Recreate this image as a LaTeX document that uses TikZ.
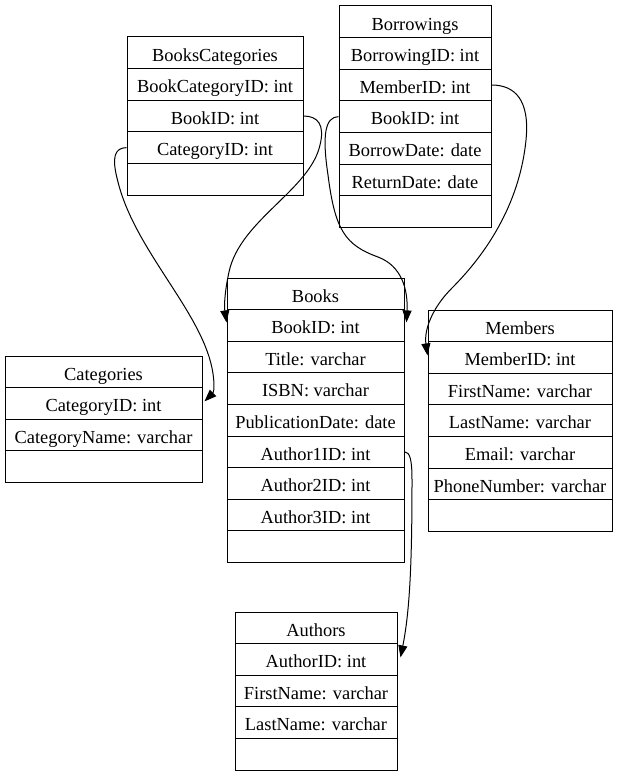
\documentclass[tikz,border=0pt]{standalone}
\usepackage{fontspec}
\setmainfont{Liberation Serif}
\usetikzlibrary{arrows.meta}
\begin{document}
\begin{tikzpicture}[x=1pt,y=-1pt,
  cell/.style={draw=black,line width=1pt,rectangle,inner sep=0pt,minimum height=31.6pt,
    font=\fontsize{18.4}{22}\selectfont,text height=16.6pt,text depth=0pt},
  link/.style={draw=black,line width=1pt,-{Triangle[length=12pt,width=9pt]}}]
\useasboundingbox (0,0) rectangle (626,776);
% BooksCategories
\begin{scope}[every node/.append style={cell,minimum width=176pt}]
\node (bc0) at (215,52.8) {BooksCategories};
\node (bc1) at (215,84.4) {BookCategoryID: int};
\node (bc2) at (215,116) {BookID: int};
\node (bc3) at (215,147.6) {CategoryID: int};
\node (bc4) at (215,179.2) {};
\end{scope}
% Borrowings
\begin{scope}[every node/.append style={cell,minimum width=152pt}]
\node (br0) at (415,21.8) {Borrowings};
\node (br1) at (415,53.4) {BorrowingID: int};
\node (br2) at (415,85) {MemberID: int};
\node (br3) at (415,116.6) {BookID: int};
\node (br4) at (415,148.2) {BorrowDate: date};
\node (br5) at (415,179.8) {ReturnDate: date};
\node (br6) at (415,211.4) {};
\end{scope}
% Books
\begin{scope}[every node/.append style={cell,minimum width=177pt}]
\node (bk0) at (315.5,293.8) {Books};
\node (bk1) at (315.5,325.4) {BookID: int};
\node (bk2) at (315.5,357) {Title: varchar};
\node (bk3) at (315.5,388.6) {ISBN: varchar};
\node (bk4) at (315.5,420.2) {PublicationDate: date};
\node (bk5) at (315.5,451.8) {Author1ID: int};
\node (bk6) at (315.5,483.4) {Author2ID: int};
\node (bk7) at (315.5,515) {Author3ID: int};
\node (bk8) at (315.5,546.6) {};
\end{scope}
% Members
\begin{scope}[every node/.append style={cell,minimum width=184pt}]
\node (mb0) at (520,325.8) {Members};
\node (mb1) at (520,357.4) {MemberID: int};
\node (mb2) at (520,389) {FirstName: varchar};
\node (mb3) at (520,420.6) {LastName: varchar};
\node (mb4) at (520,452.2) {Email: varchar};
\node (mb5) at (520,483.8) {PhoneNumber: varchar};
\node (mb6) at (520,515.4) {};
\end{scope}
% Categories
\begin{scope}[every node/.append style={cell,minimum width=197pt}]
\node (ct0) at (103.5,371.8) {Categories};
\node (ct1) at (103.5,403.4) {CategoryID: int};
\node (ct2) at (103.5,435) {CategoryName: varchar};
\node (ct3) at (103.5,466.6) {};
\end{scope}
% Authors
\begin{scope}[every node/.append style={cell,minimum width=162pt}]
\node (au0) at (316,627.8) {Authors};
\node (au1) at (316,659.4) {AuthorID: int};
\node (au2) at (316,691) {FirstName: varchar};
\node (au3) at (316,722.6) {LastName: varchar};
\node (au4) at (316,754.2) {};
\end{scope}
% connectors
\draw[link] (bc2.east) .. controls (318,116) and (325,125) .. (320,145)
  .. controls (310,190) and (240,220) .. (229,272)
  .. controls (225,290) and (224,305) .. ([yshift=3pt]bk1.west);
\draw[link] (bc3.west) .. controls (115,148) and (111,156) .. (118,182)
  .. controls (135,250) and (200,310) .. (212,368)
  .. controls (215,383) and (214,392) .. ([xshift=2pt,yshift=2pt]ct1.east);
\draw[link] (br3.west) .. controls (325,117) and (322,135) .. (328,175)
  .. controls (335,230) and (345,245) .. (378,257)
  .. controls (402,266) and (408,290) .. ([xshift=2pt,yshift=3pt]bk1.east);
\draw[link] (br2.east) .. controls (515,85) and (530,100) .. (526,140)
  .. controls (520,200) and (490,250) .. (452,288)
  .. controls (432,308) and (424,330) .. ([yshift=2pt]mb1.west);
\draw[link] (bk5.east) .. controls (410,452) and (412,460) .. (412,480)
  .. controls (412,560) and (410,610) .. ([xshift=3pt,yshift=2pt]au1.east);
\end{tikzpicture}
\end{document}
